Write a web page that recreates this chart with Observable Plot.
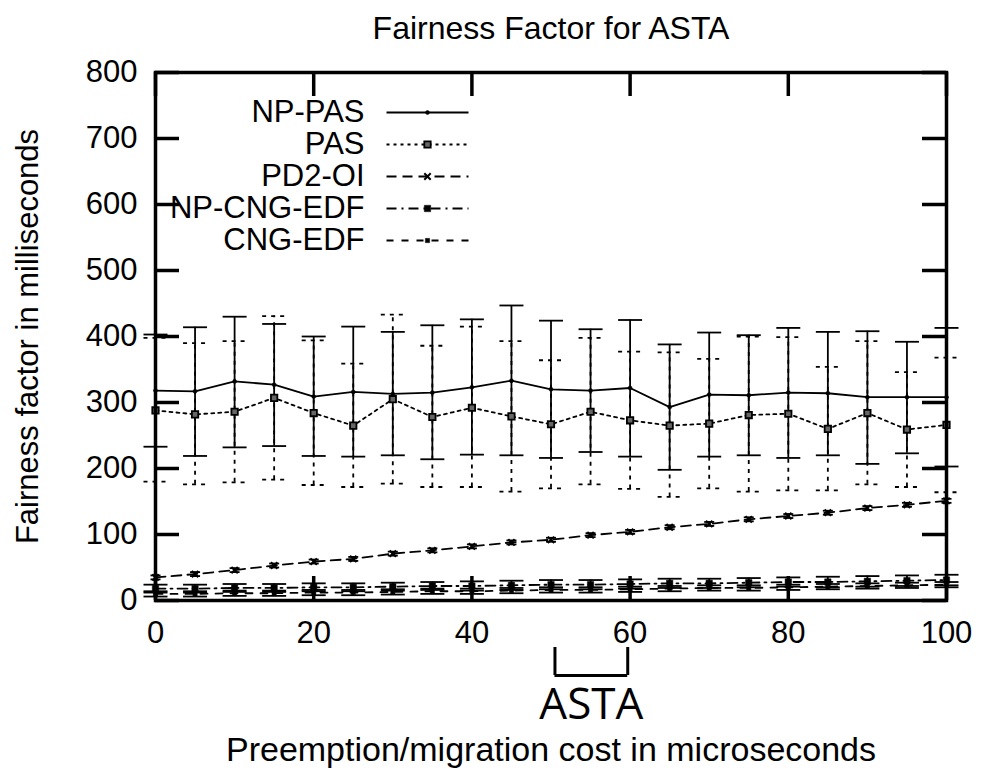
<!DOCTYPE html>
<html>
<head>
<meta charset="utf-8">
<script src="https://cdn.jsdelivr.net/npm/d3@7"></script>
<script src="https://cdn.jsdelivr.net/npm/@observablehq/plot@0.6"></script>
<style>
  html, body { margin: 0; padding: 0; background: #fff; }
  #chart svg { display: block; }
</style>
</head>
<body>
<div id="chart"></div>
<script>
// ---------- data ----------
const costs = [0, 5, 10, 15, 20, 25, 30, 35, 40, 45, 50, 55, 60, 65, 70, 75, 80, 85, 90, 95, 100];

const npPasMean = [318, 317, 332, 327, 309, 316, 313, 315, 323, 333, 320, 318, 322, 293, 312, 311, 315, 314, 308, 308, 308];
const npPasLow  = [233, 219, 232, 234, 219, 218, 220, 214, 221, 220, 216, 225, 218, 198, 218, 220, 216, 220, 207, 223, 203];
const npPasHigh = [403, 414, 430, 419, 400, 415, 407, 417, 426, 447, 424, 411, 425, 388, 406, 402, 413, 407, 408, 392, 413];

const pasMean = [288, 282, 286, 307, 284, 265, 305, 278, 292, 279, 267, 286, 273, 265, 268, 281, 283, 260, 284, 259, 266];
const pasLow  = [180, 176, 179, 183, 175, 172, 177, 172, 172, 165, 170, 176, 169, 157, 170, 165, 167, 167, 176, 172, 164];
const pasHigh = [398, 390, 393, 431, 394, 359, 433, 386, 415, 393, 364, 398, 377, 376, 366, 400, 399, 354, 393, 346, 368];

const pd2Mean = [35, 40, 46, 53, 59, 63, 71, 76, 82, 88, 92, 99, 104, 111, 116, 123, 128, 133, 140, 145, 151];
const pd2Err  = [3, 3, 3, 3, 3, 3, 3, 3, 3, 3, 3, 3, 3, 3, 3, 3, 3, 3, 3, 3, 3];

const npCngMean = [18, 18, 19, 19, 20, 20, 21, 22, 22, 23, 24, 24, 25, 26, 26, 27, 28, 28, 29, 30, 31];
const npCngErr  = [6, 6, 6, 6, 6, 6, 6, 6, 7, 7, 7, 7, 7, 7, 7, 7, 7, 8, 8, 8, 8];

const cngMean = [10, 10, 11, 11, 12, 12, 13, 14, 14, 15, 16, 16, 17, 18, 19, 19, 20, 21, 22, 23, 24];
const cngErr  = [4, 4, 4, 4, 4, 4, 4, 4, 4, 4, 4, 4, 4, 4, 4, 4, 4, 4, 4, 4, 4];

const xTicks = [0, 20, 40, 60, 80, 100];
const yTicks = [0, 100, 200, 300, 400, 500, 600, 700, 800];

const astaRange = [50.5, 59.7];
const astaLabel = "ASTA";

const titleText = "Fairness Factor for ASTA";
const xLabel = "Preemption/migration cost in microseconds";
const yLabel = "Fairness factor in milliseconds";

// ---------- layout ----------
const W = 981, H = 774;
const mL = 155, mR = 35, mT = 72, mB = 174;
const frameW = W - mL - mR;
const frameH = H - mT - mB;
const tickLen = 24;
const FONT = "'Liberation Sans', Arial, Helvetica, sans-serif";
const FS = 31;

const hbar = (half) => ({ draw(ctx) { ctx.moveTo(-half, 0); ctx.lineTo(half, 0); } });

const build = (mean, lo, hi) => costs.map((x, i) => ({ x, y: mean[i], lo: lo[i], hi: hi[i] }));

const series = [
  { name: "NP-PAS", data: build(npPasMean, npPasLow, npPasHigh),
    dash: null, barDash: null, symbol: "circle", r: 2, fill: "black", sw: 0 },
  { name: "PAS", data: build(pasMean, pasLow, pasHigh),
    dash: "3,4", barDash: "4,5", symbol: "square", r: 3.6, fill: "#666", sw: 1.8 },
  { name: "PD2-OI", data: build(pd2Mean, pd2Mean.map((m, i) => m - pd2Err[i]), pd2Mean.map((m, i) => m + pd2Err[i])),
    dash: "10,6", barDash: null, symbol: "times", r: 3, fill: "none", sw: 2, smallBar: true },
  { name: "NP-CNG-EDF", data: build(npCngMean, npCngMean.map((m, i) => m - npCngErr[i]), npCngMean.map((m, i) => m + npCngErr[i])),
    dash: "10,5,2,5", barDash: null, symbol: "square", r: 3.6, fill: "black", sw: 0 },
  { name: "CNG-EDF", data: build(cngMean, cngMean.map((m, i) => m - cngErr[i]), cngMean.map((m, i) => m + cngErr[i])),
    dash: "7,8", barDash: null, symbol: "square", r: 2.4, fill: "black", sw: 0 }
];

const marks = [];

// error bars
for (const s of series) {
  const half = s.smallBar ? 5 : 12;
  marks.push(
    Plot.ruleX(s.data, { x: "x", y1: "lo", y2: "hi", stroke: "black", strokeWidth: 1.8, strokeDasharray: s.barDash }),
    Plot.dot(s.data, { x: "x", y: "lo", r: 1, symbol: hbar(half), fill: "none", stroke: "black", strokeWidth: 1.8, strokeDasharray: s.barDash }),
    Plot.dot(s.data, { x: "x", y: "hi", r: 1, symbol: hbar(half), fill: "none", stroke: "black", strokeWidth: 1.8, strokeDasharray: s.barDash })
  );
}
// lines + markers
for (const s of series) {
  marks.push(
    Plot.line(s.data, { x: "x", y: "y", stroke: "black", strokeWidth: 1.8, strokeDasharray: s.dash }),
    Plot.dot(s.data, { x: "x", y: "y", symbol: s.symbol, r: s.r, fill: s.fill, stroke: "black", strokeWidth: s.sw || 0.5 })
  );
}

// legend (inside the frame, top-left)
series.forEach((s, i) => {
  const dy = 40 + 32 * i;
  marks.push(
    Plot.text([s.name], { frameAnchor: "top-left", dx: 209, dy, text: d => d, textAnchor: "end", lineAnchor: "middle", fontSize: FS, fill: "black" }),
    Plot.dot([s.name], { frameAnchor: "top-left", dx: 272, dy, r: 1, symbol: hbar(41), fill: "none", stroke: "black", strokeWidth: 1.8, strokeDasharray: s.dash }),
    Plot.dot([s.name], { frameAnchor: "top-left", dx: 272, dy, symbol: s.symbol, r: s.r, fill: s.fill, stroke: "black", strokeWidth: s.sw || 0.5 })
  );
});

// inward mirrored ticks
marks.push(
  Plot.tickY(yTicks, { y: d => d, insetRight: frameW - tickLen, stroke: "black", strokeWidth: 3.5 }),
  Plot.tickY(yTicks, { y: d => d, insetLeft: frameW - tickLen, stroke: "black", strokeWidth: 3.5 }),
  Plot.tickX(xTicks, { x: d => d, insetTop: frameH - tickLen, stroke: "black", strokeWidth: 3.5 }),
  Plot.tickX(xTicks, { x: d => d, insetBottom: frameH - tickLen, stroke: "black", strokeWidth: 3.5 }),
  Plot.frame({ stroke: "black", strokeWidth: 3.5 })
);

// axes (labels only)
marks.push(
  Plot.axisY({ ticks: yTicks, tickSize: 0, tickPadding: 18, fontSize: FS, label: null, tickFormat: d => String(d) }),
  Plot.axisX({ ticks: xTicks, tickSize: 0, tickPadding: 20, fontSize: FS, label: null, tickFormat: d => String(d) })
);

// titles
marks.push(
  Plot.text([titleText], { frameAnchor: "top", dy: -44, text: d => d, lineAnchor: "middle", textAnchor: "middle", fontSize: 32, fill: "black" }),
  Plot.text([xLabel], { frameAnchor: "bottom", dy: 150, text: d => d, lineAnchor: "middle", textAnchor: "middle", fontSize: 34, fill: "black" }),
  Plot.text([yLabel], { frameAnchor: "left", dx: -127, rotate: -90, text: d => d, lineAnchor: "middle", textAnchor: "middle", fontSize: FS, fill: "black" })
);

// ASTA bracket annotation
marks.push(
  Plot.ruleY([0], { x1: astaRange[0], x2: astaRange[1], dy: 75, stroke: "black", strokeWidth: 3 }),
  Plot.tickX(astaRange, { x: d => d, insetTop: frameH - 28, dy: 75, stroke: "black", strokeWidth: 3 }),
  Plot.text([astaLabel], { x: (astaRange[0] + astaRange[1]) / 2, frameAnchor: "bottom", dy: 104, text: d => d,
    lineAnchor: "middle", textAnchor: "middle",
    fontSize: 44, fontFamily: "'Open Sans', 'Noto Sans', sans-serif", fill: "black" })
);

const chart = Plot.plot({
  width: W,
  height: H,
  marginLeft: mL,
  marginRight: mR,
  marginTop: mT,
  marginBottom: mB,
  x: { domain: [0, 100], label: null },
  y: { domain: [0, 800], label: null },
  style: { fontFamily: FONT, fontSize: FS + "px", color: "black", background: "white", overflow: "visible" },
  marks
});
document.getElementById("chart").appendChild(chart);
</script>
</body>
</html>
